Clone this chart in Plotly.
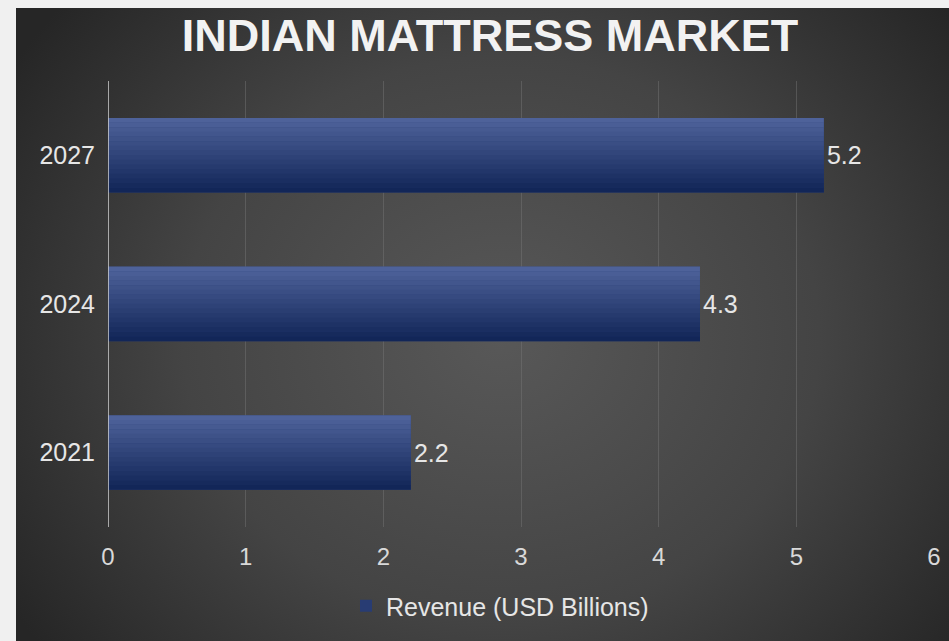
import base64
import plotly.graph_objects as go

# Market size data
years = ["2021", "2024", "2027"]
revenue = [2.2, 4.3, 5.2]
value_labels = ["2.2", "4.3", "5.2"]
x_ticks = [0, 1, 2, 3, 4, 5, 6]
series_name = "Revenue (USD Billions)"
title_text = "INDIAN MATTRESS MARKET"

W, H = 949, 641
ML, MR, MT, MB = 108, 15, 81, 114
PW, PH = W - ML - MR, H - MT - MB

FONT = "Liberation Sans, Arial"
BAR_WIDTH = 0.5
N_SLICES = 16
TOP_RGB = (78, 98, 154)
BOT_RGB = (18, 38, 88)


def mix(t):
    r, g, b = (round(TOP_RGB[i] + (BOT_RGB[i] - TOP_RGB[i]) * t) for i in range(3))
    return f"rgb({r},{g},{b})"


fig = go.Figure()

# Main series: carries the legend entry and the value labels
fig.add_trace(go.Bar(
    y=years, x=revenue, orientation="h", name=series_name,
    marker=dict(color="rgb(40,60,115)", line=dict(width=0)),
    width=BAR_WIDTH,
    text=value_labels, textposition="outside", cliponaxis=False,
    textfont=dict(family=FONT, size=25, color="#e6e6e6"),
    hoverinfo="x+y",
))

# Horizontal strips stacked across the bar thickness give a vertical shading
step = BAR_WIDTH / N_SLICES
for i in range(N_SLICES):
    t = i / (N_SLICES - 1)
    # strip i runs from the top edge downwards (categories increase upward)
    offset = BAR_WIDTH / 2 - (i + 1) * step
    fig.add_trace(go.Bar(
        y=years, x=revenue, orientation="h", showlegend=False,
        marker=dict(color=mix(t), line=dict(width=0)),
        width=step * 1.05, offset=offset, hoverinfo="skip",
    ))

# Radial background panel as an inline SVG
svg = f"""<svg xmlns='http://www.w3.org/2000/svg' width='933' height='633' viewBox='0 0 933 633' preserveAspectRatio='none'>
<defs><radialGradient id='g' cx='0.52' cy='0.52' r='0.62' gradientTransform='translate(0.52 0.52) scale(1 1.3) translate(-0.52 -0.52)'>
<stop offset='0' stop-color='#585858'/><stop offset='0.55' stop-color='#444444'/><stop offset='1' stop-color='#262626'/>
</radialGradient></defs><rect width='933' height='633' fill='url(#g)'/></svg>"""
src = "data:image/svg+xml;base64," + base64.b64encode(svg.encode()).decode()

x0p = (16 - ML) / PW
x1p = (W - ML) / PW
y_top = (H - MB - 8) / PH
y_bot = (H - MB - H) / PH

fig.add_layout_image(dict(
    source=src, xref="paper", yref="paper",
    x=x0p, y=y_top, sizex=x1p - x0p, sizey=y_top - y_bot,
    xanchor="left", yanchor="top", sizing="stretch", layer="below",
))

fig.update_layout(
    width=W, height=H,
    margin=dict(l=ML, r=MR, t=MT, b=MB, autoexpand=False),
    paper_bgcolor="#f0f0f0",
    plot_bgcolor="rgba(0,0,0,0)",
    barmode="overlay",
    title=dict(
        text=f"<b>{title_text}</b>", x=(490 / W), xanchor="center",
        y=1 - 35 / H, yanchor="middle",
        font=dict(family=FONT, size=45, color="#f2f2f2"),
    ),
    xaxis=dict(
        range=[0, 6], tickvals=x_ticks, showgrid=True, gridcolor="rgba(120,120,120,0.45)",
        gridwidth=1, zeroline=False, showline=False, automargin=False,
        ticks="outside", ticklen=0, ticklabelstandoff=8,
        tickfont=dict(family=FONT, size=24, color="#d9d9d9"),
    ),
    yaxis=dict(
        categoryorder="array", categoryarray=years,
        showgrid=False, zeroline=False, showline=False, automargin=False,
        ticks="", ticklabelstandoff=12,
        tickfont=dict(family=FONT, size=25, color="#e6e6e6"),
    ),
    legend=dict(
        orientation="h", x=(500 - ML) / PW, xanchor="center",
        y=(H - MB - 606) / PH, yanchor="middle",
        font=dict(family=FONT, size=25, color="#e6e6e6"),
        bgcolor="rgba(0,0,0,0)", itemwidth=30,
    ),
    shapes=[dict(
        type="line", xref="x", yref="paper", x0=0, x1=0, y0=0, y1=1,
        line=dict(color="#d0d0d0", width=1.5),
    )],
    showlegend=True,
)

fig.write_html("out.html")
